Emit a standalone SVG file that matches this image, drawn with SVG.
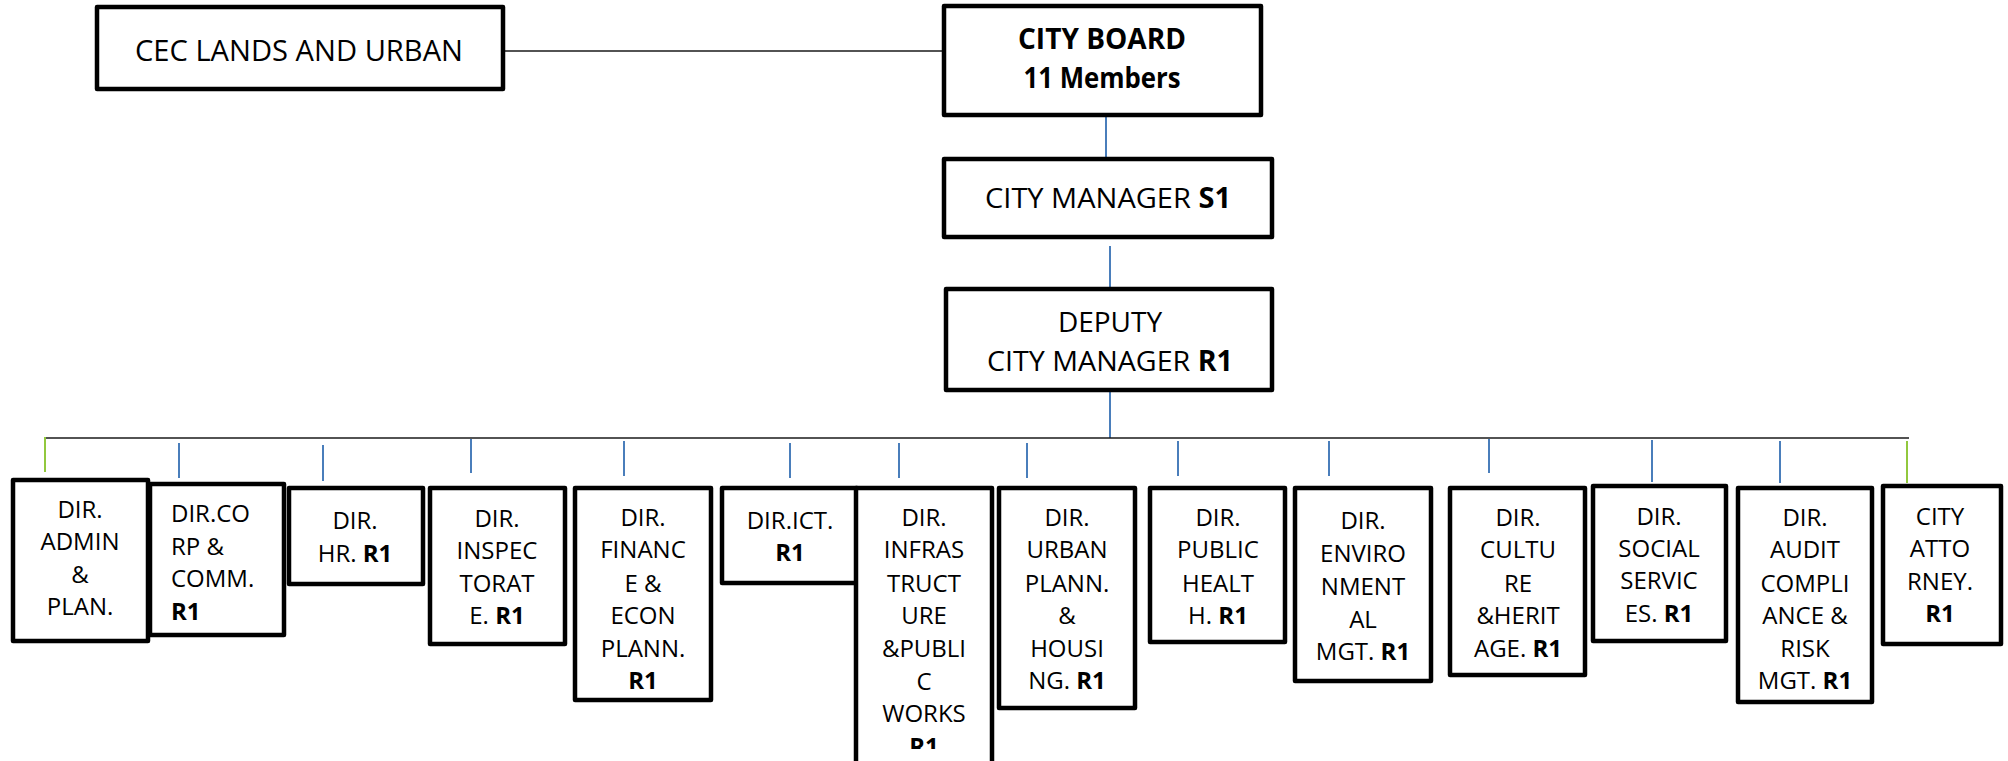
<svg xmlns="http://www.w3.org/2000/svg" width="2008" height="761" viewBox="0 0 2008 761">
  <style>
    .box { fill: #ffffff; stroke: #000000; stroke-width: 4.5; stroke-linejoin: round; }
    .t { font-family: "Open Sans", "Noto Sans", "Liberation Sans", sans-serif; font-size: 24px; fill: #000000; text-anchor: middle; }
    .tl { text-anchor: start; }
    .big { font-size: 28px; }
    .head { font-size: 29px; }
    .b { font-weight: bold; }
    .blk { stroke: #1a1a1a; stroke-width: 1.6; fill: none; }
    .blue { stroke: #4a7ebb; stroke-width: 2; fill: none; }
    .green { stroke: #92c83e; stroke-width: 2; fill: none; }
  </style>
  <defs>
    <clipPath id="infraClip">
      <rect x="856" y="488" width="136" height="261"/>
    </clipPath>
  </defs>

  <!-- connectors -->
  <g id="connectors">
    <line class="blk" x1="503" y1="51" x2="944" y2="51"/>
    <line class="blue" x1="1106" y1="117" x2="1106" y2="159"/>
    <line class="blue" x1="1110" y1="246" x2="1110" y2="289"/>
    <line class="blue" x1="1110" y1="392" x2="1110" y2="438"/>
    <line class="blk" x1="45" y1="438" x2="1909" y2="438"/>
    <line class="green" x1="45" y1="437" x2="45" y2="472"/>
    <line class="blue" x1="179" y1="443" x2="179" y2="478"/>
    <line class="blue" x1="323" y1="445" x2="323" y2="481"/>
    <line class="blue" x1="471" y1="439" x2="471" y2="473"/>
    <line class="blue" x1="624" y1="441" x2="624" y2="476"/>
    <line class="blue" x1="790" y1="443" x2="790" y2="478"/>
    <line class="blue" x1="899" y1="443" x2="899" y2="478"/>
    <line class="blue" x1="1027" y1="443" x2="1027" y2="478"/>
    <line class="blue" x1="1178" y1="441" x2="1178" y2="476"/>
    <line class="blue" x1="1329" y1="441" x2="1329" y2="476"/>
    <line class="blue" x1="1489" y1="439" x2="1489" y2="473"/>
    <line class="blue" x1="1652" y1="440" x2="1652" y2="482"/>
    <line class="blue" x1="1780" y1="441" x2="1780" y2="483"/>
    <line class="green" x1="1907" y1="441" x2="1907" y2="483"/>
  </g>

  <!-- top tier -->
  <g id="cec">
    <rect class="box" x="97" y="7" width="406" height="82"/>
    <text class="t head" x="299" y="61" textLength="328" lengthAdjust="spacingAndGlyphs">CEC LANDS AND URBAN</text>
  </g>
  <g id="city-board">
    <rect class="box" x="944" y="6" width="317" height="109"/>
    <text class="t head b" x="1102" y="49" textLength="168" lengthAdjust="spacingAndGlyphs">CITY BOARD</text>
    <text class="t head b" x="1102" y="88" textLength="157" lengthAdjust="spacingAndGlyphs">11 Members</text>
  </g>
  <g id="city-manager">
    <rect class="box" x="944" y="159" width="328" height="78"/>
    <text class="t big" x="1108" y="208" textLength="246" lengthAdjust="spacingAndGlyphs">CITY MANAGER <tspan class="b">S1</tspan></text>
  </g>
  <g id="deputy-city-manager">
    <rect class="box" x="946" y="289" width="326" height="101"/>
    <text class="t big" x="1110" y="332">DEPUTY</text>
    <text class="t big" x="1110" y="371" textLength="246" lengthAdjust="spacingAndGlyphs">CITY MANAGER <tspan class="b">R1</tspan></text>
  </g>

  <!-- directorates -->
  <g id="dir-admin">
    <rect class="box" x="13" y="480" width="135" height="161"/>
    <text class="t" x="80" y="518">DIR.</text>
    <text class="t" x="80" y="550">ADMIN</text>
    <text class="t" x="80" y="583">&amp;</text>
    <text class="t" x="80" y="615">PLAN.</text>
  </g>
  <g id="dir-corp">
    <rect class="box" x="150" y="484" width="134" height="151"/>
    <text class="t tl" x="171" y="522">DIR.CO</text>
    <text class="t tl" x="171" y="555">RP &amp;</text>
    <text class="t tl" x="171" y="587">COMM.</text>
    <text class="t tl b" x="171" y="620">R1</text>
  </g>
  <g id="dir-hr">
    <rect class="box" x="289" y="488" width="134" height="96"/>
    <text class="t" x="355" y="529">DIR.</text>
    <text class="t" x="355" y="562">HR. <tspan class="b">R1</tspan></text>
  </g>
  <g id="dir-inspectorate">
    <rect class="box" x="430" y="488" width="135" height="156"/>
    <text class="t" x="497" y="527">DIR.</text>
    <text class="t" x="497" y="559">INSPEC</text>
    <text class="t" x="497" y="592">TORAT</text>
    <text class="t" x="497" y="624">E. <tspan class="b">R1</tspan></text>
  </g>
  <g id="dir-finance">
    <rect class="box" x="575" y="488" width="136" height="212"/>
    <text class="t" x="643" y="526">DIR.</text>
    <text class="t" x="643" y="558">FINANC</text>
    <text class="t" x="643" y="592">E &amp;</text>
    <text class="t" x="643" y="624">ECON</text>
    <text class="t" x="643" y="657">PLANN.</text>
    <text class="t b" x="643" y="689">R1</text>
  </g>
  <g id="dir-ict">
    <rect class="box" x="722" y="488" width="135" height="95"/>
    <text class="t" x="790" y="529">DIR.ICT.</text>
    <text class="t b" x="790" y="561">R1</text>
  </g>
  <g id="dir-infrastructure">
    <rect class="box" x="856" y="488" width="136" height="290"/>
    <g clip-path="url(#infraClip)">
      <text class="t" x="924" y="526">DIR.</text>
      <text class="t" x="924" y="558">INFRAS</text>
      <text class="t" x="924" y="592">TRUCT</text>
      <text class="t" x="924" y="624">URE</text>
      <text class="t" x="924" y="657">&amp;PUBLI</text>
      <text class="t" x="924" y="690">C</text>
      <text class="t" x="924" y="722">WORKS</text>
      <text class="t b" x="924" y="755">R1</text>
    </g>
  </g>
  <g id="dir-urban">
    <rect class="box" x="999" y="488" width="136" height="220"/>
    <text class="t" x="1067" y="526">DIR.</text>
    <text class="t" x="1067" y="558">URBAN</text>
    <text class="t" x="1067" y="592">PLANN.</text>
    <text class="t" x="1067" y="624">&amp;</text>
    <text class="t" x="1067" y="657">HOUSI</text>
    <text class="t" x="1067" y="689">NG. <tspan class="b">R1</tspan></text>
  </g>
  <g id="dir-public-health">
    <rect class="box" x="1150" y="488" width="135" height="154"/>
    <text class="t" x="1218" y="526">DIR.</text>
    <text class="t" x="1218" y="558">PUBLIC</text>
    <text class="t" x="1218" y="592">HEALT</text>
    <text class="t" x="1218" y="624">H. <tspan class="b">R1</tspan></text>
  </g>
  <g id="dir-environment">
    <rect class="box" x="1295" y="488" width="136" height="193"/>
    <text class="t" x="1363" y="529">DIR.</text>
    <text class="t" x="1363" y="562">ENVIRO</text>
    <text class="t" x="1363" y="595">NMENT</text>
    <text class="t" x="1363" y="628">AL</text>
    <text class="t" x="1363" y="660">MGT. <tspan class="b">R1</tspan></text>
  </g>
  <g id="dir-culture">
    <rect class="box" x="1450" y="488" width="135" height="187"/>
    <text class="t" x="1518" y="526">DIR.</text>
    <text class="t" x="1518" y="558">CULTU</text>
    <text class="t" x="1518" y="592">RE</text>
    <text class="t" x="1518" y="624">&amp;HERIT</text>
    <text class="t" x="1518" y="657">AGE. <tspan class="b">R1</tspan></text>
  </g>
  <g id="dir-social">
    <rect class="box" x="1593" y="486" width="133" height="155"/>
    <text class="t" x="1659" y="525">DIR.</text>
    <text class="t" x="1659" y="557">SOCIAL</text>
    <text class="t" x="1659" y="589">SERVIC</text>
    <text class="t" x="1659" y="622">ES. <tspan class="b">R1</tspan></text>
  </g>
  <g id="dir-audit">
    <rect class="box" x="1738" y="488" width="134" height="214"/>
    <text class="t" x="1805" y="526">DIR.</text>
    <text class="t" x="1805" y="558">AUDIT</text>
    <text class="t" x="1805" y="592">COMPLI</text>
    <text class="t" x="1805" y="624">ANCE &amp;</text>
    <text class="t" x="1805" y="657">RISK</text>
    <text class="t" x="1805" y="689">MGT. <tspan class="b">R1</tspan></text>
  </g>
  <g id="city-attorney">
    <rect class="box" x="1883" y="486" width="118" height="158"/>
    <text class="t" x="1940" y="525">CITY</text>
    <text class="t" x="1940" y="557">ATTO</text>
    <text class="t" x="1940" y="590">RNEY.</text>
    <text class="t b" x="1940" y="622">R1</text>
  </g>
</svg>
